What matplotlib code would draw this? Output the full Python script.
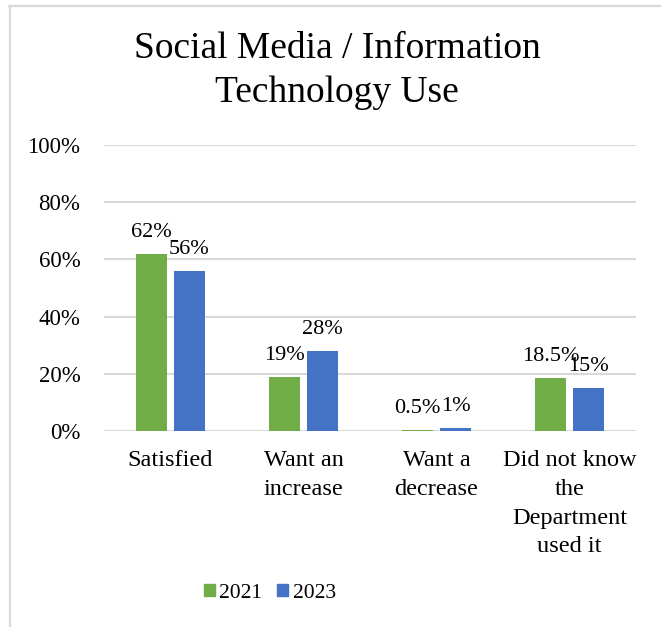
import matplotlib
matplotlib.use("Agg")
import matplotlib.pyplot as plt
from matplotlib.lines import Line2D
import numpy as np

categories = ["Satisfied", "Want an\nincrease", "Want a\ndecrease", "Did not know\nthe\nDepartment\nused it"]
series_names = ["2021", "2023"]
values_2021 = [62, 19, 0.5, 18.5]
values_2023 = [56, 28, 1, 15]
yticks = [0, 20, 40, 60, 80, 100]
ytick_labels = ["0%", "20%", "40%", "60%", "80%", "100%"]
colors = ["#70AD47", "#4472C4"]
title_lines = ["Social Media / Information", "Technology Use"]

plt.rcParams['font.family'] = ['Liberation Serif', 'DejaVu Serif']

W, H = 661, 627
fig = plt.figure(figsize=(W / 100, H / 100), dpi=100)
ax = fig.add_axes([104 / W, 1 - 431 / H, (636 - 104) / W, (431 - 145) / H])

x = np.arange(len(categories))
bw = 0.226
off = 0.143
for i, (vals, name) in enumerate(zip([values_2021, values_2023], series_names)):
    pos = x + (-off if i == 0 else off)
    ax.bar(pos, vals, width=bw, color=colors[i], label=name, zorder=3)
    for p, v in zip(pos, vals):
        ax.annotate(f"{v:g}%", (p, v), xytext=(0, 12), textcoords="offset points",
                    ha="center", va="baseline", fontsize=16, color="#000000")

ax.set_xlim(-0.5, len(categories) - 0.5)
ax.set_ylim(0, 100)
ax.set_yticks(yticks)
ax.set_yticklabels(ytick_labels, fontsize=16.5)
ax.set_xticks(x)
ax.set_xticklabels(categories, fontsize=17.5, linespacing=1.48, va="top")
ax.tick_params(axis="y", length=0, pad=17)
ax.tick_params(axis="x", length=0, pad=14)
ax.grid(axis="y", color="#D9D9D9", linewidth=1.5, zorder=0)
for s in ax.spines.values():
    s.set_visible(False)

fig.text(337 / W, 1 - 49 / H, title_lines[0], ha="center", va="center", fontsize=27)
fig.text(337 / W, 1 - 93 / H, title_lines[1], ha="center", va="center", fontsize=27)

handles = [plt.Rectangle((0, 0), 1, 1, color=c) for c in colors]
fig.legend(handles, series_names, loc="center", bbox_to_anchor=(270 / W, 1 - 593 / H),
           ncol=2, frameon=False, fontsize=15.5, handlelength=0.5, handleheight=0.5,
           handletextpad=0.2, columnspacing=0.7)

fig.add_artist(Line2D([9 / W, 1], [1 - 5.5 / H, 1 - 5.5 / H], transform=fig.transFigure, color="#D9D9D9", linewidth=1.6))
fig.add_artist(Line2D([9.5 / W, 9.5 / W], [0, 1 - 5.5 / H], transform=fig.transFigure, color="#D9D9D9", linewidth=1.6))

fig.savefig("out.png", dpi=100)
